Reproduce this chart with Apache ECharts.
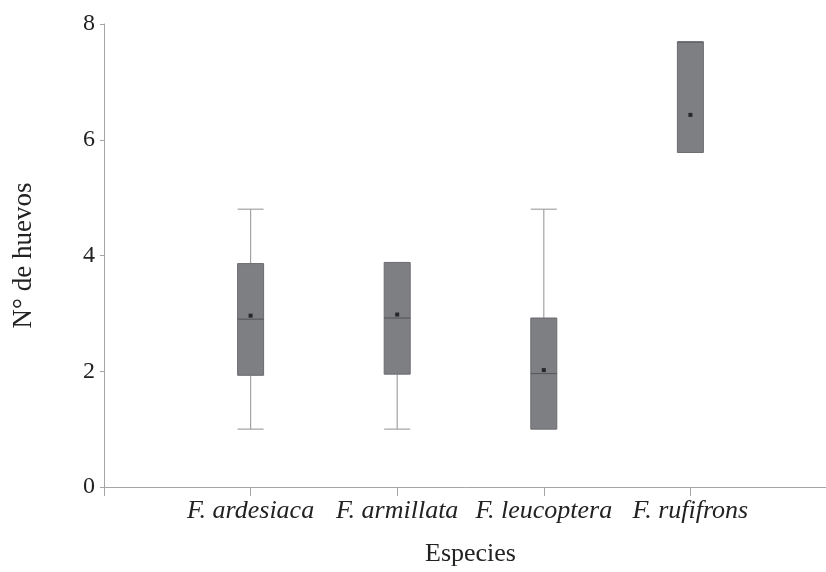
<!DOCTYPE html>
<html>
<head>
<meta charset="utf-8">
<script src="https://cdn.jsdelivr.net/npm/echarts@6/dist/echarts.min.js"></script>
<style>
  html, body { margin: 0; padding: 0; background: #fff; }
  #chart { width: 826px; height: 572px; }
</style>
</head>
<body>
<div id="chart"></div>
<script>
  // especies
  var species = ['F. ardesiaca', 'F. armillata', 'F. leucoptera', 'F. rufifrons']
  // min, Q1, mediana, Q3, max
  var mins = [1.0, 1.0, 1.0, 5.78]
  var q1s = [1.93, 1.95, 1.0, 5.78]
  var medians = [2.9, 2.92, 1.96, 7.69]
  var q3s = [3.86, 3.88, 2.92, 7.69]
  var maxs = [4.8, 3.88, 4.8, 7.69]
  var means = [2.96, 2.98, 2.02, 6.43]
  var yTicks = [0, 2, 4, 6, 8]

  // eje con un hueco a cada lado
  var axisCats = [''].concat(species).concat([''])

  var boxData = species.map(function(s, i) {
    return [i + 1, mins[i], q1s[i], medians[i], q3s[i], maxs[i]]
  })
  var meanData = species.map(function(s, i) {
    return [i + 1, means[i]]
  })

  var halfW = 13

  function renderBox(params, api) {
    var x = api.value(0)
    var pMin = api.coord([x, api.value(1)])
    var pQ1 = api.coord([x, api.value(2)])
    var pMed = api.coord([x, api.value(3)])
    var pQ3 = api.coord([x, api.value(4)])
    var pMax = api.coord([x, api.value(5)])
    var cx = pMed[0]
    var children = []
    var whisker = { stroke: '#a3a3a6', lineWidth: 1.2 }
    if (api.value(5) > api.value(4)) {
      children.push({ type: 'line', shape: { x1: cx, y1: pQ3[1], x2: cx, y2: pMax[1] }, style: whisker })
      children.push({ type: 'line', shape: { x1: cx - halfW, y1: pMax[1], x2: cx + halfW, y2: pMax[1] }, style: whisker })
    }
    if (api.value(1) < api.value(2)) {
      children.push({ type: 'line', shape: { x1: cx, y1: pQ1[1], x2: cx, y2: pMin[1] }, style: whisker })
      children.push({ type: 'line', shape: { x1: cx - halfW, y1: pMin[1], x2: cx + halfW, y2: pMin[1] }, style: whisker })
    }
    children.push({
      type: 'rect',
      shape: { x: cx - halfW, y: pQ3[1], width: halfW * 2, height: pQ1[1] - pQ3[1] },
      style: { fill: '#7e7f83', stroke: '#6c6c70', lineWidth: 1 }
    })
    children.push({
      type: 'line',
      shape: { x1: cx - halfW, y1: pMed[1], x2: cx + halfW, y2: pMed[1] },
      style: { stroke: '#5a5a5e', lineWidth: 1.2 }
    })
    return { type: 'group', children: children }
  }

  var chart = echarts.init(document.getElementById('chart'))
  chart.setOption({
    backgroundColor: '#ffffff',
    animation: false,
    grid: {
      left: 104,
      right: -11,
      top: 24,
      bottom: 85,
      containLabel: false,
      outerBoundsMode: 'none'
    },
    xAxis: {
      type: 'category',
      data: axisCats,
      boundaryGap: false,
      name: 'Especies',
      nameLocation: 'middle',
      nameGap: 54,
      nameTextStyle: { fontFamily: 'Liberation Serif', fontSize: 26, color: '#222222' },
      axisLine: { lineStyle: { color: '#a5a5a5', width: 1 } },
      axisTick: { show: true, interval: 0, length: 9, lineStyle: { color: '#a5a5a5' } },
      axisLabel: {
        interval: 0,
        margin: 11,
        fontFamily: 'Liberation Serif',
        fontStyle: 'italic',
        fontSize: 26,
        color: '#222222'
      },
      splitLine: { show: false }
    },
    yAxis: {
      type: 'value',
      min: yTicks[0],
      max: yTicks[yTicks.length - 1],
      interval: 2,
      name: 'N° de huevos',
      nameLocation: 'middle',
      nameGap: 67,
      nameTextStyle: { fontFamily: 'Liberation Serif', fontSize: 27, color: '#222222' },
      axisLine: { show: true, lineStyle: { color: '#a5a5a5', width: 1 } },
      axisTick: { show: true, length: 4, lineStyle: { color: '#a5a5a5' } },
      axisLabel: {
        margin: 9,
        fontFamily: 'Liberation Serif',
        fontSize: 24,
        color: '#222222'
      },
      splitLine: { show: false }
    },
    series: [
      {
        name: 'caja',
        type: 'custom',
        renderItem: renderBox,
        encode: { x: 0, y: [1, 2, 3, 4, 5] },
        data: boxData,
        z: 2
      },
      {
        name: 'media',
        type: 'scatter',
        symbol: 'rect',
        symbolSize: 4,
        itemStyle: { color: '#111111' },
        data: meanData,
        z: 3
      }
    ]
  })
</script>
</body>
</html>
